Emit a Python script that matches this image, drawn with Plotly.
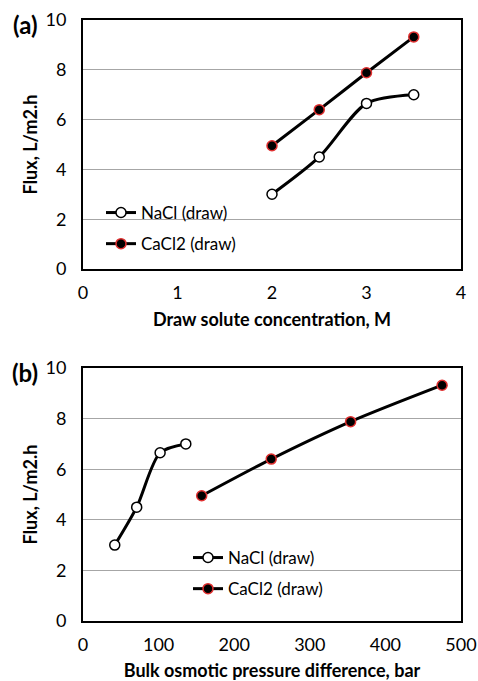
import plotly.graph_objects as go
from plotly.subplots import make_subplots

conc = [2, 2.5, 3, 3.5]
nacl_flux = [3.0, 4.5, 6.65, 7.0]
cacl2_flux = [4.95, 6.4, 7.88, 9.32]
nacl_dpi = [42, 71, 102, 136]
cacl2_dpi = [157, 249, 354, 475]

FONT = "Lato"
fig = make_subplots(rows=2, cols=1, vertical_spacing=0.0)

def add(x, y, name, row, legend, filled):
    if filled:
        marker = dict(symbol="circle", size=10, color="black", line=dict(color="#e03030", width=1.5))
    else:
        marker = dict(symbol="circle", size=10, color="white", line=dict(color="black", width=1.5))
    fig.add_trace(go.Scatter(x=x, y=y, name=name, mode="lines+markers",
                             line=dict(color="black", width=3, shape="spline", smoothing=0.8),
                             marker=marker, legend=legend, legendgroup=name + legend),
                  row=row, col=1)

add(conc, nacl_flux, "NaCl (draw)", 1, "legend", False)
add(conc, cacl2_flux, "CaCl2 (draw)", 1, "legend", True)
add(nacl_dpi, nacl_flux, "NaCl (draw)", 2, "legend2", False)
add(cacl2_dpi, cacl2_flux, "CaCl2 (draw)", 2, "legend2", True)

L, R, T, B = 83, 17, 20, 60
W, HT = 478, 681
H = HT - T - B
PW = W - L - R

def px_to_paper_x(px):
    return (px - L) / PW

def px_to_paper_y(py):
    return (HT - B - py) / H

ax_common = dict(showline=True, linecolor="black", linewidth=2, mirror=True,
                 ticks="outside", tickcolor="rgba(0,0,0,0)", automargin=False,
                 tickfont=dict(family=FONT, size=18, color="black"), zeroline=False)
title_font = dict(family=FONT, size=18, color="black", weight="bold")

fig.update_xaxes(**ax_common, showgrid=False, ticklen=6)
fig.update_yaxes(**ax_common, showgrid=True, gridcolor="#a6a6a6", gridwidth=1.2,
                 range=[0, 10], dtick=2, ticklen=11,
                 title=dict(text="Flux, L/m2.h", font=title_font, standoff=3))

fig.update_xaxes(range=[0, 4], dtick=1, row=1, col=1,
                 title=dict(text="Draw solute concentration, M", font=title_font, standoff=12))
fig.update_xaxes(range=[0, 500], dtick=100, row=2, col=1,
                 title=dict(text="Bulk osmotic pressure difference, bar", font=title_font, standoff=14))

leg_common = dict(xref="paper", yref="paper", xanchor="left", yanchor="top",
                  font=dict(family=FONT, size=17, color="black"), bgcolor="rgba(0,0,0,0)",
                  tracegroupgap=6, itemwidth=30)

fig.update_layout(
    width=W, height=HT,
    margin=dict(l=L, r=R, t=T, b=B),
    plot_bgcolor="white", paper_bgcolor="white",
    yaxis=dict(domain=[px_to_paper_y(269), 1]),
    yaxis2=dict(domain=[0, px_to_paper_y(368)]),
    legend=dict(**leg_common, x=px_to_paper_x(101), y=px_to_paper_y(195)),
    legend2=dict(**leg_common, x=px_to_paper_x(188), y=px_to_paper_y(540)),
    showlegend=True,
    annotations=[
        dict(text="<b>(a)</b>", x=px_to_paper_x(25), y=px_to_paper_y(25), xref="paper", yref="paper",
             xanchor="center", yanchor="middle",
             showarrow=False, font=dict(family=FONT, size=24, color="black")),
        dict(text="<b>(b)</b>", x=px_to_paper_x(25), y=px_to_paper_y(373), xref="paper", yref="paper",
             xanchor="center", yanchor="middle",
             showarrow=False, font=dict(family=FONT, size=24, color="black")),
    ],
)

fig.write_html("out.html")
